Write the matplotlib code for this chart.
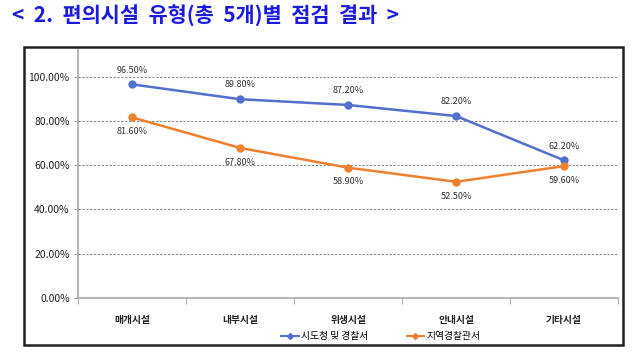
import numpy as np
import matplotlib
matplotlib.use("Agg")
import matplotlib.pyplot as plt
from matplotlib.patches import Rectangle
from matplotlib.ticker import FixedLocator

plt.rcParams['font.family'] = ['Noto Sans CJK KR', 'DejaVu Sans']

# data
categories = ['매개시설', '내부시설', '위생시설', '안내시설', '기타시설']
police_hq = [96.5, 89.8, 87.2, 82.2, 62.2]       # 시도청 및 경찰서
local_police = [81.6, 67.8, 58.9, 52.5, 59.6]    # 지역경찰관서
series_names = ['시도청 및 경찰서', '지역경찰관서']
y_ticks = [0, 20, 40, 60, 80, 100]

blue = '#5470cf'
orange = '#f0802f'

fig = plt.figure(figsize=(6.43, 3.6), dpi=100)

# title
fig.text(0.018, 0.955, '<  2.  편의시설  유형(총  5개)별  점검  결과  >', fontsize=15,
         fontweight='bold', color='#1a1ae0', va='center', ha='left')

# outer chart frame
fig.patches.append(Rectangle((0.0373, 0.042), 0.932, 0.827, transform=fig.transFigure,
                             fill=False, edgecolor='#222222', linewidth=1.8))

ax = fig.add_axes([0.1213, 0.172, 0.84, 0.689])
x = np.arange(len(categories))

ax.plot(x, police_hq, color=blue, linewidth=1.8, marker='o', markersize=5, label=series_names[0])
ax.plot(x, local_police, color=orange, linewidth=1.8, marker='o', markersize=5, label=series_names[1])

for xi, v in zip(x, police_hq):
    ax.annotate(f'{v:.2f}%', (xi, v), xytext=(0, 7), textcoords='offset points',
                ha='center', va='bottom', fontsize=6.5, color='#333333')
for xi, v in zip(x, local_police):
    ax.annotate(f'{v:.2f}%', (xi, v), xytext=(0, -7), textcoords='offset points',
                ha='center', va='top', fontsize=6.5, color='#333333')

ax.set_xlim(-0.5, len(categories) - 0.5)
ax.set_ylim(0, 112)
ax.set_yticks(y_ticks)
ax.set_yticklabels([f'{t:.2f}%' for t in y_ticks], fontsize=7.5, color='#222222')
ax.tick_params(axis='y', length=3, color='#999999', pad=3)

ax.set_xticks(x)
ax.set_xticklabels(categories, fontsize=7, fontweight='bold', color='#222222')
ax.xaxis.set_minor_locator(FixedLocator(np.arange(-0.5, len(categories), 1.0)))
ax.tick_params(axis='x', which='major', length=0, pad=12)
ax.tick_params(axis='x', which='minor', length=4, color='#999999', direction='out')

for t in y_ticks[1:]:
    ax.axhline(t, color='#888888', linewidth=0.8, linestyle=(0, (2, 1.5)), zorder=0)

for side in ['top', 'right']:
    ax.spines[side].set_visible(False)
ax.spines['left'].set_color('#aaaaaa')
ax.spines['bottom'].set_color('#aaaaaa')
ax.spines['left'].set_linewidth(1.2)
ax.spines['bottom'].set_linewidth(1.2)

leg = fig.legend(loc='center', bbox_to_anchor=(0.592, 0.066), ncol=2, frameon=False,
                 fontsize=7, handlelength=1.8, columnspacing=4, handletextpad=0.2,
                 markerscale=0.6)
for lh in leg.get_lines():
    lh.set_linewidth(1.5)
    lh.set_marker('D')

fig.savefig('out.png', dpi=100)
